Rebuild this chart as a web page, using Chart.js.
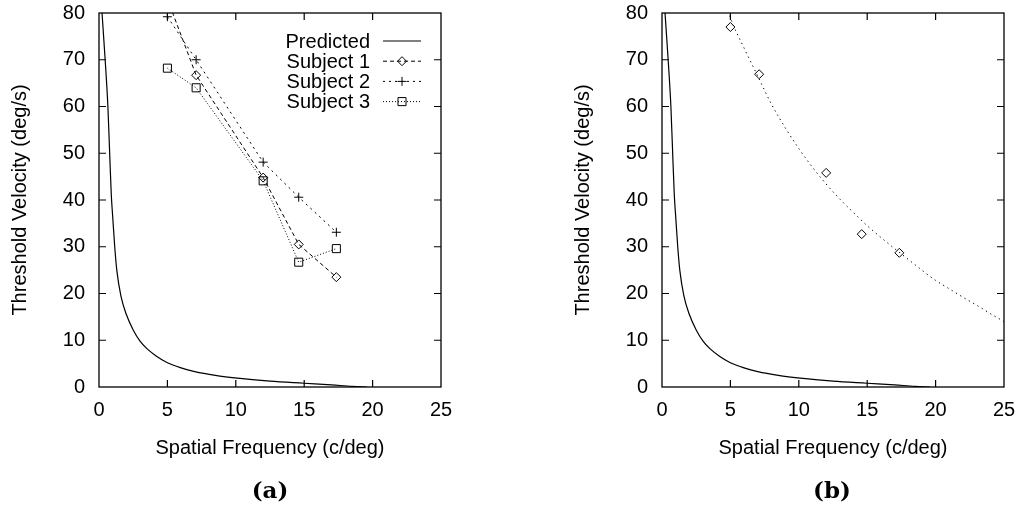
<!DOCTYPE html>
<html>
<head>
<meta charset="utf-8">
<script src="https://cdn.jsdelivr.net/npm/chart.js"></script>
<style>
  html, body { margin: 0; padding: 0; background: #fff; }
  body { width: 1018px; height: 519px; position: relative; overflow: hidden; }
  canvas { position: absolute; top: 0; }
  #cA { left: 0; }
  #cB { left: 563px; }
  .cap { position: absolute; top: 476px; width: 80px; text-align: center;
         font-family: "DejaVu Serif", "Liberation Serif", serif; font-weight: bold; font-size: 23px; color: #000; }
</style>
</head>
<body>
<canvas id="cA" width="509" height="519"></canvas>
<canvas id="cB" width="455" height="519"></canvas>
<div class="cap" style="left:230px">(a)</div>
<div class="cap" style="left:792px">(b)</div>
<script>
// ---- data ----
const freqs = [5, 7.1, 12, 14.6, 17.35];
const subject1 = [83, 66.7, 44.8, 30.5, 23.5];
const subject2 = [79.2, 70, 48.1, 40.6, 33.1];
const subject3 = [68.2, 64.0, 44.1, 26.7, 29.6];
const subject1b = [77.0, 66.9, 45.8, 32.7, 28.7];

const predX = [0.22, 0.45, 0.65, 0.78, 0.9, 1.0, 1.15, 1.3, 1.6, 2.0, 2.5, 3.0, 3.5, 4.2, 5.0, 6.0, 7.0, 8.5, 10.3, 12.5, 15.0, 17.0, 18.5, 19.6];
const predY = [80, 70, 60, 50, 41, 36.5, 30, 25, 19.5, 15.5, 12.2, 9.8, 8.2, 6.6, 5.2, 4.1, 3.3, 2.5, 1.85, 1.25, 0.8, 0.45, 0.15, 0];

const fitX = [4.85, 5, 6, 7, 8, 9, 10, 11, 12, 13, 14, 15, 16, 17, 18, 19, 20, 21, 22, 23, 24, 25];
const fitY = [80.5, 79, 72.5, 66.5, 60.5, 55.5, 51, 47, 43.4, 40.2, 37.3, 34.5, 32, 29.6, 27.3, 25, 22.8, 21, 19.2, 17.5, 15.7, 14.0];

const xTicks = [0, 5, 10, 15, 20, 25];
const yTicks = [0, 10, 20, 30, 40, 50, 60, 70, 80];
const xTitle = 'Spatial Frequency (c/deg)';
const yTitle = 'Threshold Velocity (deg/s)';
const legendNames = ['Predicted', 'Subject 1', 'Subject 2', 'Subject 3'];

const pts = (xs, ys) => xs.map((x, i) => ({x: x, y: ys[i]}));
const FONT = 'Liberation Sans, Arial, Helvetica, sans-serif';

// frame + inward ticks on all four sides (gnuplot style)
const framePlugin = {
  id: 'frame',
  afterDraw(chart) {
    const ctx = chart.ctx, a = chart.chartArea;
    const xs = chart.scales.x, ys = chart.scales.y;
    ctx.save();
    ctx.strokeStyle = '#000';
    ctx.lineWidth = 1.3;
    ctx.setLineDash([]);
    ctx.strokeRect(a.left, a.top, a.right - a.left, a.bottom - a.top);
    ctx.lineWidth = 1.2;
    ctx.beginPath();
    const L = 7;
    xs.ticks.forEach(t => {
      const p = xs.getPixelForValue(t.value);
      if (p <= a.left + 1 || p >= a.right - 1) return;
      ctx.moveTo(p, a.bottom); ctx.lineTo(p, a.bottom - L);
      ctx.moveTo(p, a.top); ctx.lineTo(p, a.top + L);
    });
    ys.ticks.forEach(t => {
      const p = ys.getPixelForValue(t.value);
      if (p <= a.top + 1 || p >= a.bottom - 1) return;
      ctx.moveTo(a.left, p); ctx.lineTo(a.left + L, p);
      ctx.moveTo(a.right, p); ctx.lineTo(a.right - L, p);
    });
    ctx.stroke();
    ctx.restore();
  }
};

// gnuplot-like key: text right-aligned, sample line to its right
const keyPlugin = {
  id: 'gkey',
  afterDatasetsDraw(chart) {
    const ctx = chart.ctx, a = chart.chartArea;
    ctx.save();
    ctx.font = '20px ' + FONT;
    ctx.fillStyle = '#000';
    ctx.textAlign = 'right';
    ctx.textBaseline = 'middle';
    chart.data.datasets.forEach((ds, i) => {
      const y = a.top + 28 + i * 20.2;
      ctx.fillText(ds.label, a.right - 71, y + 1);
      ctx.beginPath();
      ctx.strokeStyle = '#000';
      ctx.lineWidth = 1;
      ctx.setLineDash(ds.borderDash || []);
      ctx.moveTo(a.right - 58, y);
      ctx.lineTo(a.right - 20, y);
      ctx.stroke();
      ctx.setLineDash([]);
      if (ds.pointRadius > 0 && Chart.helpers && Chart.helpers.drawPoint) {
        ctx.strokeStyle = '#000';
        ctx.fillStyle = 'rgba(0,0,0,0)';
        Chart.helpers.drawPoint(ctx, {pointStyle: ds.pointStyle, radius: ds.pointRadius, borderWidth: 1, rotation: 0}, a.right - 39, y);
        ctx.fillStyle = '#000';
      }
    });
    ctx.restore();
  }
};

function zeroPad(s) { s.paddingTop = 0; s.paddingBottom = 0; s.paddingLeft = 0; s.paddingRight = 0; }

function makeOptions(rightPad) {
  return {
    responsive: false,
    animation: false,
    layout: { padding: { top: 13, right: rightPad, bottom: 59, left: 0 } },
    plugins: { legend: { display: false }, tooltip: { enabled: false } },
    elements: { line: { tension: 0 } },
    scales: {
      x: {
        type: 'linear', min: 0, max: 25,
        afterBuildTicks: s => { s.ticks = xTicks.map(v => ({value: v})); },
        afterFit: s => { s.height = 73; zeroPad(s); },
        grid: { display: false, drawTicks: false },
        border: { display: false },
        ticks: { padding: 11, color: '#000', font: { family: FONT, size: 20 }, maxRotation: 0 },
        title: { display: true, text: xTitle, color: '#000', font: { family: FONT, size: 20 }, padding: { top: 0, bottom: 0 } }
      },
      y: {
        type: 'linear', min: 0, max: 80,
        afterBuildTicks: s => { s.ticks = yTicks.map(v => ({value: v})); },
        afterFit: s => { s.width = 99; zeroPad(s); },
        grid: { display: false, drawTicks: false },
        border: { display: false },
        ticks: { padding: 14, color: '#000', font: { family: FONT, size: 20 } },
        title: { display: true, text: yTitle, color: '#000', font: { family: FONT, size: 20 }, padding: { top: 8, bottom: 0 } }
      }
    }
  };
}

const base = { borderColor: '#000', borderWidth: 1, backgroundColor: 'rgba(0,0,0,0)', pointBorderColor: '#000', pointBackgroundColor: 'rgba(0,0,0,0)', pointBorderWidth: 1, showLine: true, fill: false };

new Chart(document.getElementById('cA'), {
  type: 'line',
  data: {
    datasets: [
      Object.assign({}, base, { label: legendNames[0], data: pts(predX, predY), pointRadius: 0, cubicInterpolationMode: 'monotone', borderWidth: 1.2 }),
      Object.assign({}, base, { label: legendNames[1], data: pts(freqs, subject1), borderDash: [4, 3], pointStyle: 'rectRot', pointRadius: 4.5 }),
      Object.assign({}, base, { label: legendNames[2], data: pts(freqs, subject2), borderDash: [2, 4], pointStyle: 'cross', pointRadius: 4.5 }),
      Object.assign({}, base, { label: legendNames[3], data: pts(freqs, subject3), borderDash: [1, 2], pointStyle: 'rect', pointRadius: 5.7 })
    ]
  },
  options: makeOptions(509 - 441),
  plugins: [framePlugin, keyPlugin]
});

new Chart(document.getElementById('cB'), {
  type: 'line',
  data: {
    datasets: [
      Object.assign({}, base, { label: 'Predicted', data: pts(predX, predY), pointRadius: 0, cubicInterpolationMode: 'monotone', borderWidth: 1.2 }),
      Object.assign({}, base, { label: 'Fit', data: pts(fitX, fitY), borderDash: [1.3, 3.7], pointRadius: 0, cubicInterpolationMode: 'monotone' }),
      Object.assign({}, base, { label: 'Subject 1', data: pts(freqs, subject1b), showLine: false, pointStyle: 'rectRot', pointRadius: 4.5 })
    ]
  },
  options: makeOptions(455 - 441),
  plugins: [framePlugin]
});
</script>
</body>
</html>
